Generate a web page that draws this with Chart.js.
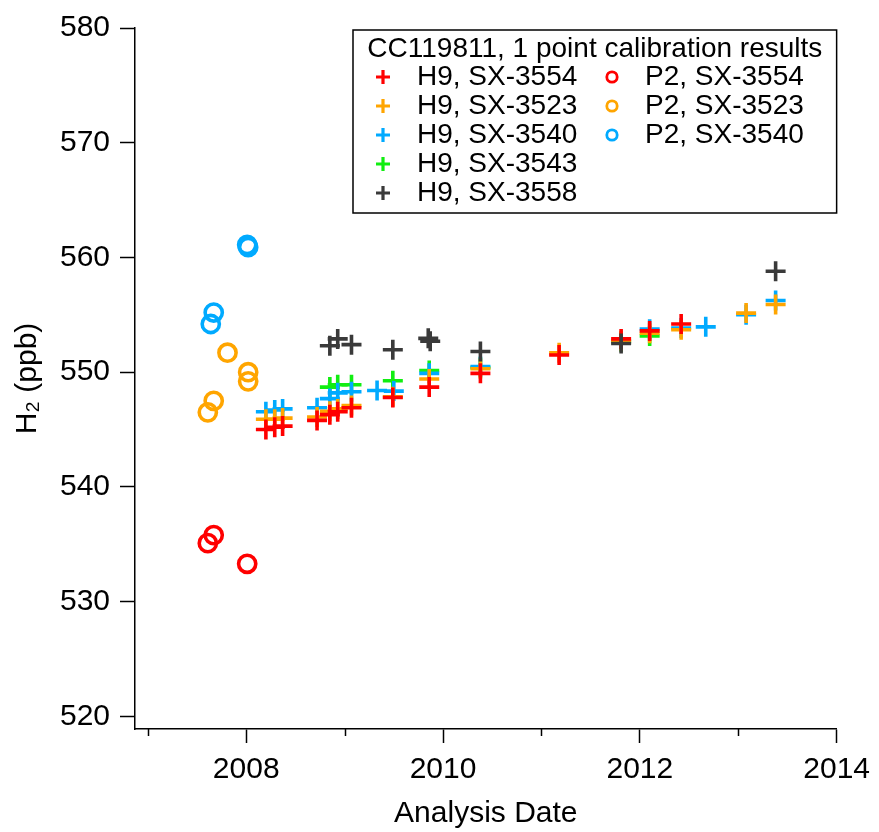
<!DOCTYPE html>
<html lang="en">
<head>
<meta charset="UTF-8">
<title>CC119811 calibration results</title>
<script src="https://cdn.jsdelivr.net/npm/chart.js"></script>
<style>
    body { margin: 0; background: #fff; }
    canvas { display: block; }
</style>
</head>
<body>
<canvas id="calChart" width="879" height="832"></canvas>
<script>
// H9 runs (decimal year, H2 in ppb), one pair of arrays per tank
const h9_3554_dates = [2008.20, 2008.29, 2008.37, 2008.72, 2008.85, 2008.93, 2009.07, 2009.49, 2009.86, 2010.38, 2011.18, 2011.81, 2012.10, 2012.42];
const h9_3554_vals  = [545.0, 545.2, 545.3, 545.8, 546.3, 546.55, 546.9, 547.8, 548.7, 549.9, 551.5, 552.9, 553.6, 554.2];

const h9_3523_dates = [2008.20, 2008.29, 2008.37, 2008.72, 2008.85, 2008.93, 2009.07, 2009.49, 2009.86, 2010.38, 2011.18, 2011.81, 2012.10, 2012.42, 2013.08, 2013.38];
const h9_3523_vals  = [545.9, 545.9, 546.0, 546.1, 546.6, 546.8, 547.1, 547.85, 549.4, 550.3, 551.7, 552.75, 553.4, 553.7, 555.15, 555.9];

const h9_3540_dates = [2008.20, 2008.29, 2008.37, 2008.72, 2008.85, 2008.93, 2009.07, 2009.33, 2009.50, 2009.86, 2010.38, 2012.10, 2012.42, 2012.67, 2013.08, 2013.38];
const h9_3540_vals  = [546.55, 546.7, 546.8, 546.9, 547.7, 548.2, 548.3, 548.4, 548.35, 549.9, 550.5, 553.75, 553.85, 553.95, 555.0, 556.25];

const h9_3543_dates = [2008.85, 2008.93, 2009.07, 2009.49, 2009.86, 2010.38, 2011.81, 2012.10];
const h9_3543_vals  = [548.7, 548.9, 548.9, 549.25, 550.15, 550.4, 552.65, 553.15];

const h9_3558_dates = [2008.85, 2008.93, 2009.07, 2009.49, 2009.85, 2009.87, 2010.38, 2011.81, 2013.38];
const h9_3558_vals  = [552.3, 552.9, 552.4, 551.95, 552.95, 552.7, 551.8, 552.5, 558.8];

// P2 runs
const p2_3554_dates = [2007.61, 2007.67, 2008.01];
const p2_3554_vals  = [535.1, 535.8, 533.3];

const p2_3523_dates = [2007.61, 2007.67, 2007.81, 2008.02, 2008.02];
const p2_3523_vals  = [546.5, 547.5, 551.7, 549.2, 550.0];

const p2_3540_dates = [2007.64, 2007.67, 2008.01, 2008.02];
const p2_3540_vals  = [554.2, 555.2, 561.1, 560.9];

const xTickYears = [2007, 2008, 2009, 2010, 2011, 2012, 2013, 2014];
const yTickValues = [520, 530, 540, 550, 560, 570, 580];
const legendTitle = 'CC119811, 1 point calibration results';

const RED = '#ff0000', ORANGE = '#ffa500', BLUE = '#00aaff', GREEN = '#11ee11', GREY = '#3a3a3a';
const FONT = '"Liberation Sans", Arial, Helvetica, sans-serif';

function pts(dates, vals) {
    return dates.map((d, i) => ({ x: d, y: vals[i] }));
}

function h9(label, dates, vals, color, order) {
    return { label, data: pts(dates, vals), pointStyle: 'cross', pointRadius: 10,
             borderWidth: 3.6, pointBorderWidth: 3.6, borderColor: color, backgroundColor: color, order };
}
function p2(label, dates, vals, color) {
    return { label, data: pts(dates, vals), pointStyle: 'circle', pointRadius: 8.6,
             borderWidth: 3.6, pointBorderWidth: 3.6, borderColor: color,
             backgroundColor: 'rgba(0,0,0,0)', order: 5 };
}

// short unlabeled ticks on odd years
const minorTicks = {
    id: 'minorTicks',
    afterDraw(chart) {
        const ctx = chart.ctx, x = chart.scales.x, y0 = chart.chartArea.bottom;
        ctx.save();
        ctx.strokeStyle = '#000';
        ctx.lineWidth = 1.5;
        xTickYears.filter(v => v % 2 !== 0).forEach(v => {
            const px = Math.round(x.getPixelForValue(v)) + 0.5;
            ctx.beginPath();
            ctx.moveTo(px, y0);
            ctx.lineTo(px, y0 + 7);
            ctx.stroke();
        });
        ctx.restore();
    }
};

// boxed legend: H9 entries in the left column, P2 entries in the right one
const boxLegend = {
    id: 'boxLegend',
    afterDraw(chart) {
        const ctx = chart.ctx, area = chart.chartArea;
        const left = 353, top = area.top + 2, right = area.right, bottom = 213;
        ctx.save();
        ctx.fillStyle = '#fff';
        ctx.fillRect(left, top, right - left, bottom - top);
        ctx.strokeStyle = '#000';
        ctx.lineWidth = 1.5;
        ctx.strokeRect(left, top, right - left, bottom - top);

        ctx.fillStyle = '#000';
        ctx.font = '28px ' + FONT;
        ctx.textBaseline = 'middle';
        ctx.textAlign = 'center';
        ctx.fillText(legendTitle, (left + right) / 2, top + 19);

        ctx.textAlign = 'left';
        const rows = [0, 0];
        chart.data.datasets.forEach(ds => {
            const col = ds.pointStyle === 'cross' ? 0 : 1;
            const mx = col === 0 ? 383 : 612;
            const tx = col === 0 ? 417 : 645;
            const y = top + 47 + rows[col] * 29;
            rows[col]++;
            ctx.strokeStyle = ds.borderColor;
            ctx.beginPath();
            if (col === 0) {
                ctx.lineWidth = 3.2;
                ctx.moveTo(mx - 7, y); ctx.lineTo(mx + 7, y);
                ctx.moveTo(mx, y - 7); ctx.lineTo(mx, y + 7);
            } else {
                ctx.lineWidth = 2.8;
                ctx.arc(mx, y, 5.2, 0, Math.PI * 2);
            }
            ctx.stroke();
            ctx.fillStyle = '#000';
            ctx.fillText(ds.label, tx, y);
        });
        ctx.restore();
    }
};

new Chart(document.getElementById('calChart'), {
    type: 'scatter',
    data: {
        datasets: [
            h9('H9, SX-3554', h9_3554_dates, h9_3554_vals, RED, 1),
            h9('H9, SX-3523', h9_3523_dates, h9_3523_vals, ORANGE, 2),
            h9('H9, SX-3540', h9_3540_dates, h9_3540_vals, BLUE, 3),
            h9('H9, SX-3543', h9_3543_dates, h9_3543_vals, GREEN, 4),
            h9('H9, SX-3558', h9_3558_dates, h9_3558_vals, GREY, 0),
            p2('P2, SX-3554', p2_3554_dates, p2_3554_vals, RED),
            p2('P2, SX-3523', p2_3523_dates, p2_3523_vals, ORANGE),
            p2('P2, SX-3540', p2_3540_dates, p2_3540_vals, BLUE)
        ]
    },
    options: {
        responsive: false,
        animation: false,
        devicePixelRatio: 1,
        events: [],
        layout: { padding: { top: 26, right: 41, bottom: 0, left: 0 } },
        plugins: {
            legend: { display: false },
            tooltip: { enabled: false }
        },
        scales: {
            x: {
                type: 'linear',
                min: 2006.87,
                max: 2014,
                afterBuildTicks: s => { s.ticks = xTickYears.map(v => ({ value: v })); },
                afterFit: s => { s.height = 103; },
                border: { color: '#000', width: 1.5 },
                grid: {
                    drawOnChartArea: false,
                    tickLength: 14,
                    tickWidth: 1.5,
                    tickColor: c => (c.tick && c.tick.value % 2 === 0) ? '#000' : 'rgba(0,0,0,0)'
                },
                ticks: {
                    color: '#000',
                    font: { family: FONT, size: 30 },
                    padding: 9,
                    maxRotation: 0,
                    autoSkip: false,
                    callback: v => (v % 2 === 0 ? String(v) : '')
                },
                title: {
                    display: true,
                    text: 'Analysis Date',
                    color: '#000',
                    font: { family: FONT, size: 30 },
                    padding: { top: 0, bottom: 0 }
                }
            },
            y: {
                type: 'linear',
                min: 518.9,
                max: 580,
                afterBuildTicks: s => { s.ticks = yTickValues.map(v => ({ value: v })); },
                afterFit: s => { s.width = 135; },
                border: { color: '#000', width: 1.5 },
                grid: {
                    drawOnChartArea: false,
                    tickLength: 15,
                    tickWidth: 1.5,
                    tickColor: '#000'
                },
                ticks: {
                    color: '#000',
                    font: { family: FONT, size: 30 },
                    padding: 10,
                    callback: v => String(v)
                },
                title: {
                    display: true,
                    text: 'H₂ (ppb)',
                    color: '#000',
                    font: { family: FONT, size: 30 },
                    padding: { top: 10, bottom: 0 }
                }
            }
        }
    },
    plugins: [minorTicks, boxLegend]
});
</script>
</body>
</html>
